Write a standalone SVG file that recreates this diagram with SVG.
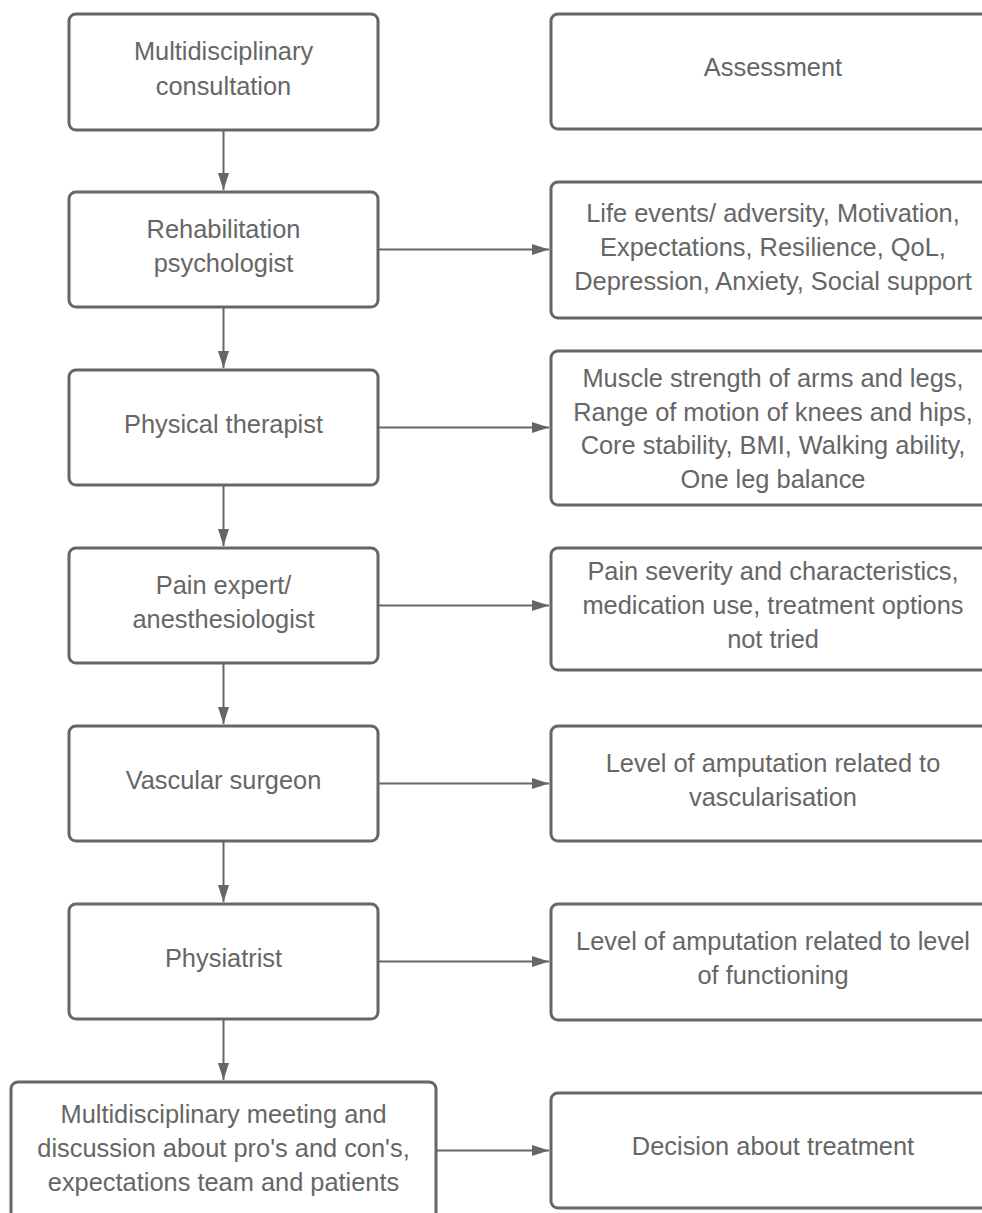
<svg xmlns="http://www.w3.org/2000/svg" width="982" height="1213" viewBox="0 0 982 1213">
<defs>
<marker id="ah" markerWidth="17" markerHeight="12" refX="17" refY="6" orient="auto" markerUnits="userSpaceOnUse">
<path d="M0,0.5 L17,6 L0,11.5 Z" fill="#666666"/>
</marker>
<style>
.box{fill:#ffffff;stroke:#666666;stroke-width:3}
.t{font-family:"Liberation Sans",Arial,sans-serif;font-size:25.4px;fill:#666666;text-anchor:middle}
.c{stroke:#666666;stroke-width:2;fill:none;marker-end:url(#ah)}
</style>
</defs>
<rect width="982" height="1213" fill="#ffffff"/>
<g id="connectors">
<line class="c" x1="223.5" y1="130" x2="223.5" y2="190"/>
<line class="c" x1="223.5" y1="307" x2="223.5" y2="368"/>
<line class="c" x1="223.5" y1="485" x2="223.5" y2="546"/>
<line class="c" x1="223.5" y1="663" x2="223.5" y2="724"/>
<line class="c" x1="223.5" y1="841" x2="223.5" y2="902"/>
<line class="c" x1="223.5" y1="1019" x2="223.5" y2="1080"/>
<line class="c" x1="378" y1="249.5" x2="549" y2="249.5"/>
<line class="c" x1="378" y1="427.5" x2="549" y2="427.5"/>
<line class="c" x1="378" y1="605.5" x2="549" y2="605.5"/>
<line class="c" x1="378" y1="783.5" x2="549" y2="783.5"/>
<line class="c" x1="378" y1="961.5" x2="549" y2="961.5"/>
<line class="c" x1="436" y1="1150.5" x2="549" y2="1150.5"/>
</g>
<g id="n-consultation">
<rect class="box" x="69" y="14" width="309" height="116" rx="7"/>
<text class="t" x="223.5" y="60">Multidisciplinary</text>
<text class="t" x="223.5" y="95">consultation</text>
</g>
<g id="n-psychologist">
<rect class="box" x="69" y="192" width="309" height="115" rx="7"/>
<text class="t" x="223.5" y="238">Rehabilitation</text>
<text class="t" x="223.5" y="272">psychologist</text>
</g>
<g id="n-therapist">
<rect class="box" x="69" y="370" width="309" height="115" rx="7"/>
<text class="t" x="223.5" y="433">Physical therapist</text>
</g>
<g id="n-pain">
<rect class="box" x="69" y="548" width="309" height="115" rx="7"/>
<text class="t" x="223.5" y="594">Pain expert/</text>
<text class="t" x="223.5" y="628">anesthesiologist</text>
</g>
<g id="n-vascular">
<rect class="box" x="69" y="726" width="309" height="115" rx="7"/>
<text class="t" x="223.5" y="789">Vascular surgeon</text>
</g>
<g id="n-physiatrist">
<rect class="box" x="69" y="904" width="309" height="115" rx="7"/>
<text class="t" x="223.5" y="967">Physiatrist</text>
</g>
<g id="n-meeting">
<rect class="box" x="11" y="1082" width="425" height="140" rx="7"/>
<text class="t" x="223.5" y="1123">Multidisciplinary meeting and</text>
<text class="t" x="223.5" y="1157">discussion about pro's and con's,</text>
<text class="t" x="223.5" y="1191">expectations team and patients</text>
</g>
<g id="n-assessment">
<rect class="box" x="551" y="14" width="444" height="115" rx="7"/>
<text class="t" x="773" y="76">Assessment</text>
</g>
<g id="n-psych-items">
<rect class="box" x="551" y="182" width="444" height="136" rx="7"/>
<text class="t" x="773" y="222">Life events/ adversity, Motivation,</text>
<text class="t" x="773" y="256">Expectations, Resilience, QoL,</text>
<text class="t" x="773" y="290">Depression, Anxiety, Social support</text>
</g>
<g id="n-phys-items">
<rect class="box" x="551" y="351" width="444" height="154" rx="7"/>
<text class="t" x="773" y="387">Muscle strength of arms and legs,</text>
<text class="t" x="773" y="420.5">Range of motion of knees and hips,</text>
<text class="t" x="773" y="454">Core stability, BMI, Walking ability,</text>
<text class="t" x="773" y="487.5">One leg balance</text>
</g>
<g id="n-pain-items">
<rect class="box" x="551" y="548" width="444" height="122" rx="7"/>
<text class="t" x="773" y="580">Pain severity and characteristics,</text>
<text class="t" x="773" y="614">medication use, treatment options</text>
<text class="t" x="773" y="648">not tried</text>
</g>
<g id="n-vasc-items">
<rect class="box" x="551" y="726" width="444" height="115" rx="7"/>
<text class="t" x="773" y="772">Level of amputation related to</text>
<text class="t" x="773" y="806">vascularisation</text>
</g>
<g id="n-physi-items">
<rect class="box" x="551" y="904" width="444" height="116" rx="7"/>
<text class="t" x="773" y="950">Level of amputation related to level</text>
<text class="t" x="773" y="984">of functioning</text>
</g>
<g id="n-decision">
<rect class="box" x="551" y="1093" width="444" height="115" rx="7"/>
<text class="t" x="773" y="1155">Decision about treatment</text>
</g>
</svg>
